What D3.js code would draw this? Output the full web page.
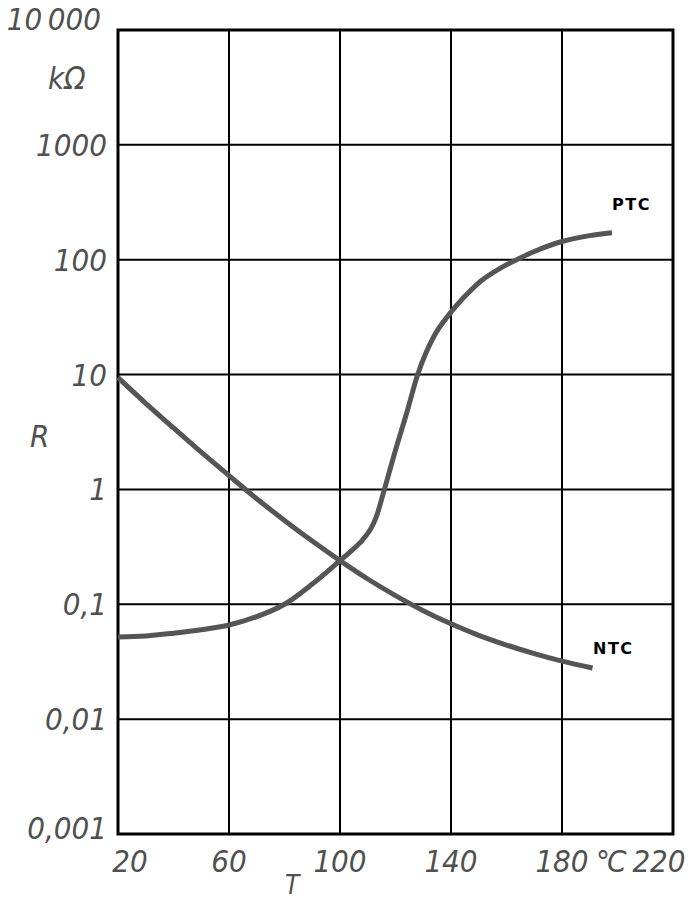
<!DOCTYPE html>
<html>
<head>
<meta charset="utf-8">
<script src="https://cdn.jsdelivr.net/npm/d3@7"></script>
<style>
html,body{margin:0;padding:0;background:#fff;}
svg{display:block;}
.tick-label{font-family:"Liberation Sans Narrow","DejaVu Sans Condensed",sans-serif;font-style:italic;fill:#505050;font-size:31px;}
.curve-label{font-family:"DejaVu Sans","Liberation Sans",sans-serif;font-weight:bold;font-size:16px;letter-spacing:1.5px;fill:#000;}
</style>
</head>
<body>
<script>
// ---- data ----
const xTicks = [20, 60, 100, 140, 180, 220];
const xTickLabels = ["20", "60", "100", "140", "180", "220"];
const yTicks = [0.001, 0.01, 0.1, 1, 10, 100, 1000, 10000];
const yTickLabels = ["0,001", "0,01", "0,1", "1", "10", "100", "1000", "10\u2009000"];

const ptcT = [20, 30, 40, 50, 60, 70, 80, 90, 100, 104, 108, 111, 113, 116, 120, 124, 128, 131, 135, 140, 145, 151, 158, 164, 170, 180, 190, 198];
const ptcR = [0.052, 0.053, 0.056, 0.060, 0.066, 0.078, 0.10, 0.15, 0.24, 0.29, 0.36, 0.45, 0.57, 1.0, 2.2, 4.6, 10, 15.5, 24, 35, 48, 66, 85, 101, 118, 144, 162, 172];

const ntcT = [20, 30, 40, 50, 60, 70, 80, 90, 100, 110, 120, 130, 140, 150, 160, 170, 180, 191];
const ntcR = [9.4, 5.62, 3.43, 2.11, 1.32, 0.83, 0.537, 0.355, 0.24, 0.166, 0.119, 0.088, 0.0676, 0.0537, 0.0442, 0.0372, 0.032, 0.0279];

// ---- layout ----
const W = 694, H = 899;
const mLeft = 118, mTop = 30, mRight = 673, mBottom = 834;

const svg = d3.select("body").append("svg").attr("width", W).attr("height", H);

const x = d3.scaleLinear().domain([20, 220]).range([mLeft, mRight]);
const y = d3.scaleLog().domain([0.001, 10000]).range([mBottom, mTop]);

// grid
const g = svg.append("g");
g.selectAll("line.vx").data(xTicks.slice(1, -1)).enter().append("line")
  .attr("x1", d => x(d)).attr("x2", d => x(d)).attr("y1", mTop).attr("y2", mBottom)
  .attr("stroke", "#000").attr("stroke-width", 2);
g.selectAll("line.hy").data(yTicks.slice(1, -1)).enter().append("line")
  .attr("x1", mLeft).attr("x2", mRight).attr("y1", d => y(d)).attr("y2", d => y(d))
  .attr("stroke", "#000").attr("stroke-width", 2);
g.append("rect").attr("x", mLeft).attr("y", mTop).attr("width", mRight - mLeft).attr("height", mBottom - mTop)
  .attr("fill", "none").attr("stroke", "#000").attr("stroke-width", 3);

// curves
const line = d3.line().x(d => x(d[0])).y(d => y(d[1])).curve(d3.curveCatmullRom.alpha(0.5));
svg.append("path").datum(ptcT.map((t, i) => [t, ptcR[i]])).attr("d", line)
  .attr("fill", "none").attr("stroke", "#555").attr("stroke-width", 5).attr("stroke-linecap", "butt");
svg.append("path").datum(ntcT.map((t, i) => [t, ntcR[i]])).attr("d", line)
  .attr("fill", "none").attr("stroke", "#555").attr("stroke-width", 5).attr("stroke-linecap", "butt");

// curve labels
svg.append("text").attr("class", "curve-label").attr("x", 612).attr("y", 210).text("PTC");
svg.append("text").attr("class", "curve-label").attr("x", 593).attr("y", 654).text("NTC");

// y tick labels
svg.selectAll("text.yl").data(yTicks).enter().append("text")
  .attr("class", "tick-label")
  .attr("text-anchor", "end")
  .attr("x", (d, i) => i === yTicks.length - 1 ? 101 : 107)
  .attr("y", (d, i) => y(d) + (i === 0 ? 5 : (i === yTicks.length - 1 ? 0 : 11)))
  .text((d, i) => yTickLabels[i]);

// unit and axis titles
svg.append("text").attr("class", "tick-label").attr("x", 48).attr("y", 89).text("kΩ");
svg.append("text").attr("class", "tick-label").attr("x", 30).attr("y", 447).text("R");

// x tick labels
svg.selectAll("text.xl").data(xTicks).enter().append("text")
  .attr("class", "tick-label")
  .attr("text-anchor", "middle")
  .attr("x", (d, i) => x(d) + (i === 0 ? 12 : (i === xTicks.length - 1 ? -14 : 0)))
  .attr("y", 872)
  .text((d, i) => xTickLabels[i]);
svg.append("text").attr("class", "tick-label").attr("x", 596).attr("y", 872)
  .attr("letter-spacing", "-3px").text("°C");
svg.append("text").attr("class", "tick-label").attr("x", 285).attr("y", 894)
  .style("font-size", "26px").text("T");
</script>
</body>
</html>
